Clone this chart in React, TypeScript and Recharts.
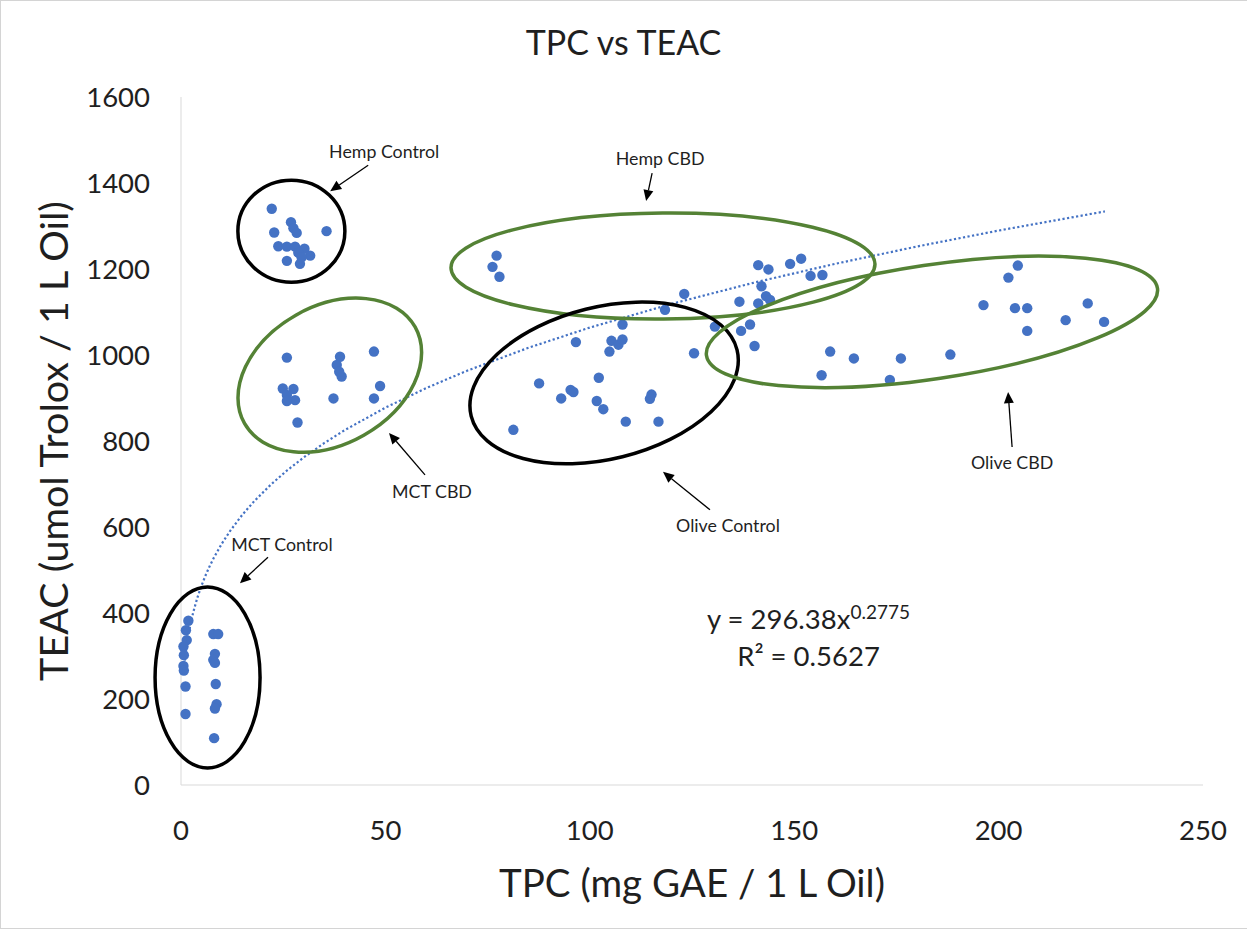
import React from 'react';
import { ScatterChart, Scatter, XAxis, YAxis, ReferenceDot, Label } from 'recharts';

// values (TPC, TEAC)
const hempControl = [
  [22.2, 1340], [26.9, 1309], [27.5, 1295], [28.3, 1284], [22.8, 1285], [35.6, 1288],
  [23.8, 1253], [25.9, 1252], [27.9, 1252], [30.2, 1247], [28.7, 1238], [31.6, 1231],
  [25.9, 1219], [29.1, 1212], [29.5, 1227],
];
const mctCbd = [
  [25.9, 994], [38.9, 996], [38.1, 977], [39.3, 950], [38.7, 961], [47.2, 1008],
  [24.9, 922], [27.5, 921], [25.9, 907], [27.9, 895], [25.9, 893], [37.3, 899],
  [48.7, 928], [47.2, 899], [28.5, 843],
];
const mctControl = [
  [1.8, 382], [1.2, 360], [1.4, 337], [0.6, 322], [0.7, 302], [0.6, 277], [0.7, 266],
  [1.1, 229], [1.1, 165], [7.9, 351], [9.1, 351], [8.3, 305], [7.9, 291], [8.3, 284],
  [8.5, 235], [8.7, 188], [8.3, 178], [8.1, 109],
];
const hempCbd = [
  [77.2, 1231], [76.2, 1205], [77.9, 1182], [141.2, 1209], [143.7, 1199], [149.0, 1212],
  [151.7, 1224], [154.0, 1184], [156.9, 1186], [142.0, 1160], [143.1, 1137], [144.1, 1128],
  [141.2, 1120], [136.6, 1124], [123.1, 1142], [118.4, 1105],
];
const oliveControl = [
  [108.0, 1071], [96.6, 1030], [105.3, 1033], [107.0, 1024], [108.0, 1036], [104.8, 1008],
  [125.5, 1004], [130.6, 1066], [137.0, 1056], [139.2, 1071], [140.3, 1021], [87.6, 934],
  [102.2, 947], [95.3, 919], [96.0, 914], [93.0, 899], [101.7, 893], [103.3, 874],
  [115.1, 908], [114.7, 898], [108.8, 845], [116.8, 845], [81.3, 826],
];
const oliveCbd = [
  [158.8, 1008], [164.6, 992], [156.7, 953], [173.4, 942], [176.1, 992], [188.2, 1001],
  [196.3, 1116], [202.4, 1180], [204.7, 1208], [204.0, 1109], [207.0, 1109], [207.0, 1056],
  [216.4, 1081], [221.8, 1120], [225.8, 1077],
];

const xTicks = [0, 50, 100, 150, 200, 250];
const yTicks = [0, 200, 400, 600, 800, 1000, 1200, 1400, 1600];

// power trendline shown on the chart: y = 296.38x^0.2775
const TREND_A = 296.38;
const TREND_B = 0.2775;
const trendX = [0.6, 1, 1.5, 2, 3, 4, 5, 6, 7, 8, 10, 12, 15, 18, 22, 26, 30, 35, 40, 50, 60, 70, 85, 100, 120, 140, 160, 180, 200, 226];

const toPts = (a: number[][]) => a.map(([x, y]) => ({ x, y }));
const groups = [hempControl, mctCbd, mctControl, hempCbd, oliveControl, oliveCbd].map(toPts);
const trend = trendX.map((x) => ({ x, y: TREND_A * Math.pow(x, TREND_B) }));

const FONT = 'Lato, "Open Sans", sans-serif';
const BLUE = '#4472C4';
const GREEN = '#548235';
const TEXT = '#1f1f1f';

// circled groups: centre in data units, radii in px
const rings = [
  { x: 27.0, y: 1288, rx: 53.5, ry: 51, rot: 0, color: '#000' },
  { x: 36.4, y: 953, rx: 98, ry: 69, rot: -29.5, color: GREEN },
  { x: 6.5, y: 250, rx: 52.5, ry: 90.5, rot: 0, color: '#000' },
  { x: 117.9, y: 1207, rx: 212, ry: 53, rot: -0.5, color: GREEN },
  { x: 103.5, y: 935, rx: 137, ry: 76, rot: -14, color: '#000' },
  { x: 183.7, y: 1077, rx: 228, ry: 57, rot: -8.5, color: GREEN },
];

// callouts: label centre in data units, arrow offsets in px from it
const callouts = [
  { text: 'Hemp Control', x: 49.7, y: 1474, a: [-16, 14, -54, 40] },
  { text: 'Hemp CBD', x: 117.2, y: 1458, a: [-8, 15, -14, 43] },
  { text: 'MCT CBD', x: 61.4, y: 684, a: [-7, -16, -43, -58] },
  { text: 'Olive Control', x: 133.8, y: 605, a: [-18, -15, -65, -53] },
  { text: 'Olive CBD', x: 203.3, y: 751, a: [0, -15, -4, -70] },
  { text: 'MCT Control', x: 24.7, y: 560, a: [-14, 13, -42, 39] },
];

const dot = (p: any) => <circle cx={p.cx} cy={p.cy} r={5.2} fill={BLUE} />;

const ringShape = (r: any) => (p: any) => (
  <ellipse
    cx={p.cx}
    cy={p.cy}
    rx={r.rx}
    ry={r.ry}
    transform={`rotate(${r.rot} ${p.cx} ${p.cy})`}
    fill="none"
    stroke={r.color}
    strokeWidth={3.5}
  />
);

const calloutShape = (c: any) => (p: any) => {
  const [dx1, dy1, dx2, dy2] = c.a;
  const x1 = p.cx + dx1, y1 = p.cy + dy1, x2 = p.cx + dx2, y2 = p.cy + dy2;
  const len = Math.hypot(x2 - x1, y2 - y1);
  const ux = (x2 - x1) / len, uy = (y2 - y1) / len;
  const bx = x2 - ux * 11, by = y2 - uy * 11;
  const head = `${x2},${y2} ${bx - uy * 5},${by + ux * 5} ${bx + uy * 5},${by - ux * 5}`;
  return (
    <g>
      <text x={p.cx} y={p.cy} textAnchor="middle" dominantBaseline="central" fontSize={17.8} fontFamily={FONT} fill={TEXT}>
        {c.text}
      </text>
      <line x1={x1} y1={y1} x2={bx} y2={by} stroke="#000" strokeWidth={1.3} />
      <polygon points={head} fill="#000" />
    </g>
  );
};

const equationShape = (p: any) => (
  <g fontFamily={FONT} fill={TEXT} textAnchor="middle">
    <text x={p.cx} y={p.cy - 8.5} fontSize={27.5}>
      y = 296.38x<tspan dy={-10} fontSize={19}>0.2775</tspan>
    </text>
    <text x={p.cx} y={p.cy + 28.5} fontSize={27.5}>R² = 0.5627</text>
  </g>
);

const XTitle = (props: any) => {
  const vb = props.viewBox;
  return (
    <text x={vb.x + vb.width / 2} y={vb.y + vb.height} textAnchor="middle" fontSize={38.5} fontFamily={FONT} fill={TEXT}>
      TPC (mg GAE / 1 L Oil)
    </text>
  );
};

const YTitle = (props: any) => {
  const vb = props.viewBox;
  const cx = vb.x + 32;
  const cy = vb.y + vb.height / 2;
  return (
    <text
      x={cx}
      y={cy}
      transform={`rotate(-90 ${cx} ${cy})`}
      textAnchor="middle"
      dominantBaseline="central"
      fontSize={39.5}
      fontFamily={FONT}
      fill={TEXT}
    >
      TEAC (umol Trolox / 1 L Oil)
    </text>
  );
};

const tickStyle = { fontSize: 27.5, fill: TEXT, fontFamily: FONT };

export default function App() {
  return (
    <div style={{ position: 'absolute', left: 0, top: 0, width: 1247, height: 930, background: '#fff' }}>
      <div
        style={{
          position: 'absolute', left: 0, top: 0, width: 1247, height: 929, boxSizing: 'border-box',
          borderTop: '1px solid #d4d4d4', borderLeft: '1px solid #d4d4d4', borderBottom: '1px solid #d4d4d4',
        }}
      />
      <div
        style={{
          position: 'absolute', left: 0, top: 25, width: 1247, textAlign: 'center',
          fontFamily: FONT, fontSize: 34, lineHeight: '34px', color: TEXT,
        }}
      >
        TPC vs TEAC
      </div>
      <ScatterChart width={1247} height={930} margin={{ top: 97, right: 44, bottom: 33, left: 20 }}>
        <XAxis
          type="number"
          dataKey="x"
          domain={[0, 250]}
          ticks={xTicks}
          interval={0}
          height={112}
          axisLine={{ stroke: '#d9d9d9' }}
          tickLine={false}
          tickMargin={29}
          tick={tickStyle}
        >
          <Label content={XTitle} />
        </XAxis>
        <YAxis
          type="number"
          dataKey="y"
          domain={[0, 1600]}
          ticks={yTicks}
          interval={0}
          width={161}
          axisLine={{ stroke: '#d9d9d9' }}
          tickLine={false}
          tickMargin={25}
          tick={tickStyle}
        >
          <Label content={YTitle} />
        </YAxis>
        {groups.map((g, i) => (
          <Scatter key={i} data={g} shape={dot} isAnimationActive={false} />
        ))}
        <Scatter
          data={trend}
          line={{ stroke: BLUE, strokeWidth: 2.2, strokeDasharray: '2.2 2.4' }}
          lineType="joint"
          shape={() => <g />}
          isAnimationActive={false}
        />
        {rings.map((r, i) => (
          <ReferenceDot key={`r${i}`} x={r.x} y={r.y} shape={ringShape(r)} />
        ))}
        {callouts.map((c, i) => (
          <ReferenceDot key={`c${i}`} x={c.x} y={c.y} shape={calloutShape(c)} />
        ))}
        <ReferenceDot x={153.5} y={343} shape={equationShape} />
      </ScatterChart>
    </div>
  );
}
